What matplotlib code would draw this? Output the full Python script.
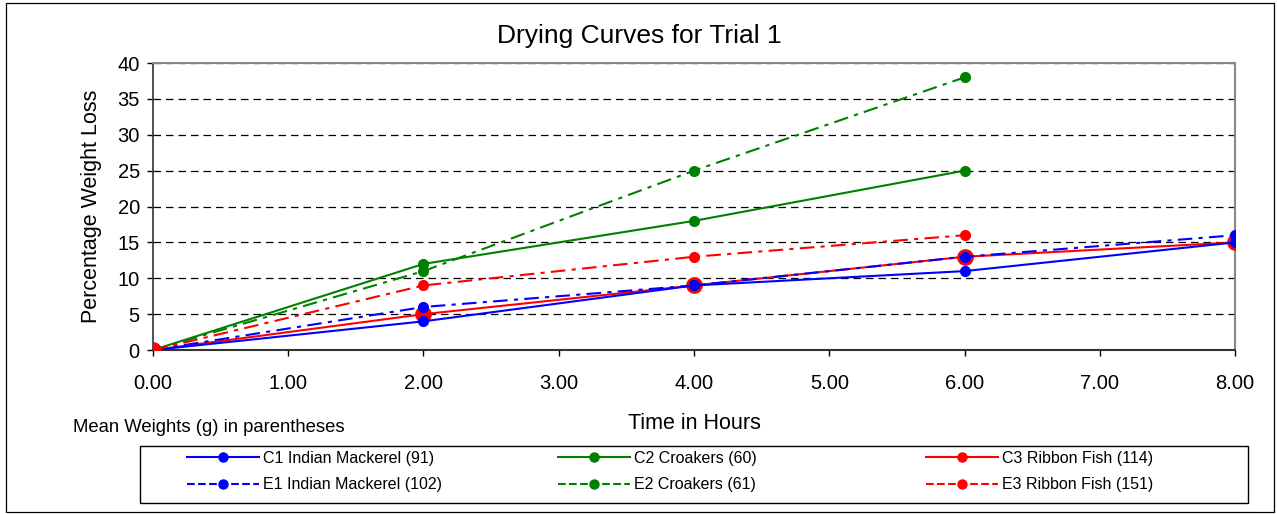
import matplotlib.pyplot as plt
from matplotlib.patches import Rectangle
from matplotlib.lines import Line2D

plt.rcParams['font.family'] = ['Liberation Sans', 'DejaVu Sans']

# Data
hours = [0, 2, 4, 6, 8]
c1_mackerel = [0, 4, 9, 11, 15]
c2_croakers = [0, 12, 18, 25]
c3_ribbon = [0, 5, 9, 13, 15]
e1_mackerel = [0, 6, 9, 13, 16]
e2_croakers = [0, 11, 25, 38]
e3_ribbon = [0, 9, 13, 16]

x_ticks = [0, 1, 2, 3, 4, 5, 6, 7, 8]
y_ticks = [0, 5, 10, 15, 20, 25, 30, 35, 40]

fig = plt.figure(figsize=(12.78, 5.14), dpi=100)
ax = fig.add_axes([0.1197, 0.319, 0.8467, 0.5584])

# outer border of the chart
fig.patches.append(Rectangle((0.005, 0.004), 0.992, 0.991, transform=fig.transFigure,
                             fill=False, edgecolor='black', linewidth=0.9))

dashdot = (0, (7, 3, 2, 3))

h_c3, = ax.plot(hours, c3_ribbon, color='red', lw=1.5, marker='o', ms=11, zorder=3,
                label='C3 Ribbon Fish (114)')
h_c1, = ax.plot(hours, c1_mackerel, color='blue', lw=1.5, marker='o', ms=7, zorder=4,
                label='C1 Indian Mackerel (91)')
h_c2, = ax.plot(hours[:4], c2_croakers, color='green', lw=1.5, marker='o', ms=7, zorder=4,
                label='C2 Croakers (60)')
h_e1, = ax.plot(hours, e1_mackerel, color='blue', lw=1.5, ls=dashdot, marker='o', ms=7, zorder=4,
                label='E1 Indian Mackerel (102)')
h_e2, = ax.plot(hours[:4], e2_croakers, color='green', lw=1.5, ls=dashdot, marker='o', ms=7, zorder=4,
                label='E2 Croakers (61)')
h_e3, = ax.plot(hours[:4], e3_ribbon, color='red', lw=1.5, ls=dashdot, marker='o', ms=7, zorder=4,
                label='E3 Ribbon Fish (151)')

ax.set_xlim(0, 8)
ax.set_ylim(0, 40)
ax.set_xticks(x_ticks)
ax.set_xticklabels(['%.2f' % v for v in x_ticks])
ax.set_yticks(y_ticks)
ax.tick_params(axis='both', labelsize=14.5, direction='out', length=4.5, width=1)
ax.tick_params(axis='x', pad=13)
ax.tick_params(axis='y', pad=5)
ax.yaxis.grid(True, color='black', linestyle=(0, (6, 4)), linewidth=0.9)
ax.set_axisbelow(True)
for side in ['top', 'right']:
    ax.spines[side].set_color('#888888')
    ax.spines[side].set_linewidth(1.5)
ax.spines['left'].set_linewidth(1.2)
ax.spines['bottom'].set_linewidth(1.5)
ax.spines['left'].set_color('#333333')
ax.spines['bottom'].set_color('#333333')

fig.text(0.5, 1 - 36 / 514, 'Drying Curves for Trial 1', fontsize=19, ha='center', va='center')
ax.set_xlabel('Time in Hours', fontsize=15.5, labelpad=14)
ax.set_ylabel('Percentage Weight Loss', fontsize=15.5, labelpad=11)

fig.text(0.057, 1 - 428 / 514, 'Mean Weights (g) in parentheses', fontsize=13.3, va='center')

# legend: frame plus three columns placed by hand (C row on top, E row below)
fig.patches.append(Rectangle((140 / 1278, 1 - 503 / 514), (1248 - 140) / 1278, 57 / 514,
                             transform=fig.transFigure, fill=False, edgecolor='black', linewidth=1.0))
columns = [(h_c1, h_e1, 187), (h_c2, h_e2, 558), (h_c3, h_e3, 926)]
for top, bottom, x_px in columns:
    entries = []
    for h in (top, bottom):
        entries.append(Line2D([], [], color=h.get_color(), ls=h.get_linestyle(), lw=1.5,
                              marker='o', ms=6.5, label=h.get_label()))
    leg = fig.legend(handles=entries, loc='center left',
                     bbox_to_anchor=(x_px / 1278, 1 - 471.5 / 514),
                     fontsize=11.5, frameon=False, handlelength=4.5, handletextpad=0.25,
                     labelspacing=0.75, borderpad=0, borderaxespad=0)

fig.savefig('out.png', dpi=100)
